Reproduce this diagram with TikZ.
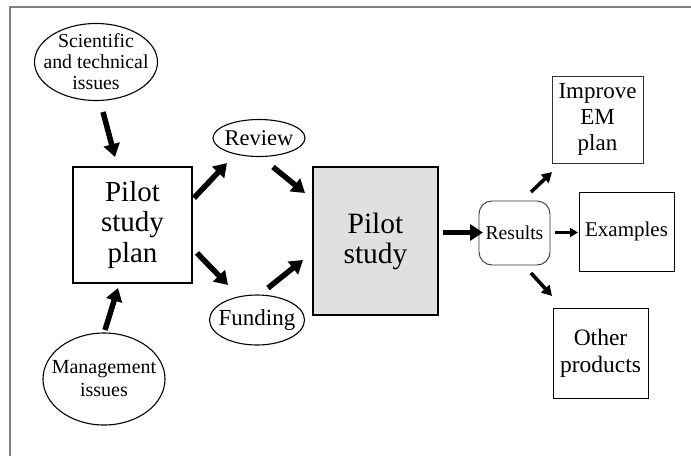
\documentclass[tikz,border=0pt]{standalone}
\usepackage{fontspec}
\setmainfont{Liberation Serif}
\usetikzlibrary{arrows.meta,calc,shapes.geometric}
\newcommand{\fs}[2]{\fontsize{#1}{#2}\selectfont}
\begin{document}
\begin{tikzpicture}[x=1pt,y=-1pt,
  every node/.style={inner sep=0pt, align=center},
  oval/.style={ellipse, draw=black, line width=1.1pt, inner sep=-20pt},
  box/.style={rectangle, draw=black, line width=1.1pt},
  bigarrow/.style={line width=5.5pt, -{Triangle[length=13pt,width=16pt]}},
  midarrow/.style={line width=3.6pt, -{Triangle[length=10pt,width=11pt]}},
  smallarrow/.style={line width=2.8pt, -{Triangle[length=8pt,width=9pt]}},
  frameline/.style={draw=black!50, line width=1.3pt}]
\useasboundingbox (0,0) rectangle (691,456);
\coordinate (ftl) at (10,7);
\coordinate (ftr) at (691,7);
\coordinate (fbl) at (10,456);
\draw[frameline] (fbl) -- (ftl) -- (ftr);

\node[oval, minimum width=123, minimum height=77, font=\fs{19.8}{21}] (sci) at (96,62) {Scientific\\and technical\\issues};
\node[oval, minimum width=122, minimum height=92, font=\fs{20}{23}] (mgmt) at (104,379) {Management\\issues};
\node[oval, minimum width=92, minimum height=37, font=\fs{22.5}{24}] (review) at (259,138) {Review};
\node[oval, minimum width=95, minimum height=50, font=\fs{23}{24}] (funding) at (257,320) {Funding};
\node[box, minimum width=119, minimum height=116, font=\fs{29}{30.5}] (plan) at (132.5,225) {Pilot\\study\\plan};
\node[box, fill=black!12, minimum width=125, minimum height=148, font=\fs{29.5}{30}] (pilot) at (375.5,241) {Pilot\\study};
\node[draw=black!80, line width=0.9pt, rounded corners=13pt, minimum width=71, minimum height=64, font=\fs{19.6}{21}] (results) at (514.5,233) {Results};
\node[box, line width=0.9pt, minimum width=95, minimum height=79, font=\fs{21}{22}] (examples) at (626.5,231.5) {Examples};
\node[box, draw=black!80, line width=0.9pt, minimum width=91, minimum height=87, font=\fs{23}{26}] (improve) at (597.5,119.5) {Improve\\EM\\plan};
\node[box, line width=0.9pt, minimum width=95, minimum height=90, font=\fs{23.5}{27}] (other) at (600.5,353) {Other\\products};

\draw[bigarrow] ($(sci.center)+(7,50)$) -- ($(plan.center)+(-17.5,-68)$);
\draw[bigarrow] ($(mgmt.center)+(1,-49)$) -- ($(plan.center)+(-14.5,63)$);
\draw[bigarrow] ($(plan.center)+(61.5,-27)$) -- ($(review.center)+(-32,25)$);
\draw[bigarrow] ($(review.center)+(14,29)$) -- ($(pilot.center)+(-70.5,-48)$);
\draw[bigarrow] ($(plan.center)+(64.5,28)$) -- ($(funding.center)+(-29,-35)$);
\draw[bigarrow] ($(funding.center)+(11,-32)$) -- ($(pilot.center)+(-72.5,19)$);
\draw[bigarrow] ($(pilot.center)+(67.5,-8.5)$) -- ($(results.center)+(-31.5,-0.5)$);
\draw[smallarrow] ($(results.center)+(40.5,-0.5)$) -- ($(examples.center)+(-48.5,1)$);
\draw[midarrow] ($(results.center)+(16.5,-41)$) -- ($(improve.center)+(-45.5,52.5)$);
\draw[midarrow] ($(results.center)+(16.5,40)$) -- ($(other.center)+(-48.5,-57)$);
\end{tikzpicture}
\end{document}
